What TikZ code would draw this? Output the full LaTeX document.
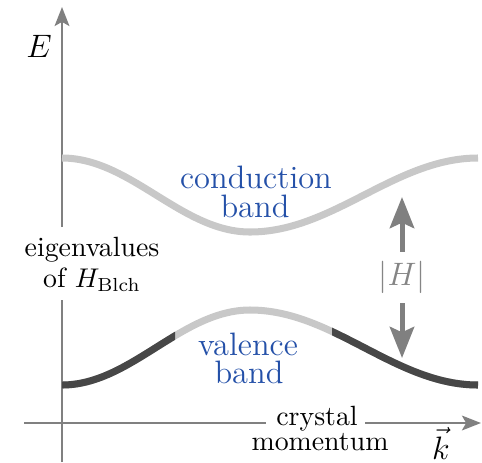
\documentclass[tikz,border=0pt]{standalone}
\usetikzlibrary{arrows.meta}
\definecolor{axisgray}{HTML}{808080}
\definecolor{lightband}{HTML}{C8C8C8}
\definecolor{darkband}{HTML}{474747}
\definecolor{bandblue}{HTML}{2450A8}
\definecolor{hgray}{HTML}{858585}
\newcommand{\myvalpath}{(62,385) .. controls (130.5,385) and (181.5,310) .. (250,310) .. controls (333,310) and (395,385) .. (478,385)}
\begin{document}
\begin{tikzpicture}[x=0.37pt,y=-0.37pt,
  axis/.style={draw=axisgray,line width=1.1pt},
  axisarrow/.style={-{Stealth[length=7pt,width=5.4pt,inset=1.5pt]}},
  band/.style={line width=2.6pt},
  harrow/.style={draw=axisgray,line width=1.85pt,-{Stealth[length=11.5pt,width=9pt,inset=2pt]}},
  bigtxt/.style={font=\fontsize{12}{14}\selectfont,anchor=base,inner sep=0pt},
  smalltxt/.style={font=\fontsize{10.3}{12}\selectfont,anchor=base,inner sep=0pt},
  bluetxt/.style={bigtxt,text=bandblue}]
\useasboundingbox (0,0) rectangle (482,462);

% vertical axis
\coordinate (vbot) at (62,462);
\coordinate (vgapb) at (62,300);
\coordinate (vgapt) at (62,227);
\coordinate (vtop) at (62,7);
\draw[axis] (vbot) -- (vgapb);
\draw[axis,axisarrow] (vgapt) -- (vtop);

% horizontal axis
\node[smalltxt] (crys) at (317,425) {crystal};
\node[smalltxt] (mom) at (320,450) {momentum};
\coordinate (hleft) at (24,423);
\coordinate (hright) at (481,423);
\coordinate (cl) at ([xshift=-3.7pt]crys.west);
\coordinate (cr) at ([xshift=2.6pt]crys.east);
\draw[axis] (hleft) -- (cl |- hleft);
\draw[axis,axisarrow] (cr |- hright) -- (hright);

% bands
\draw[band,lightband] (62,158) .. controls (130.5,158) and (181.5,232) .. (250,232) .. controls (333,232) and (395,158) .. (478,158);
\draw[band,lightband] \myvalpath;
\begin{scope}
  \clip (0,0) rectangle (175,462);
  \draw[band,darkband] \myvalpath;
\end{scope}
\begin{scope}
  \clip (332,0) rectangle (482,462);
  \draw[band,darkband] \myvalpath;
\end{scope}

% labels
\node[bigtxt] (E) at (39,57) {$E$};
\node[bigtxt] (k) at (441,459.5) {$\vec{k}$};
\node[smalltxt] (eig1) at (92,256) {eigenvalues};
\node[smalltxt] (eig2) at (92,287) {of $H_{\mathrm{Blch}}$};
\node[bluetxt] (cb1) at (256,188) {conduction};
\node[bluetxt] (cb2) at (255,217) {band};
\node[bluetxt] (vb1) at (248,355) {valence};
\node[bluetxt] (vb2) at (249,383) {band};

% gap arrows
\node[font=\fontsize{12}{14}\selectfont,text=hgray,inner sep=3.3pt] (H) at (402,277.5) {$|H|$};
\coordinate (htop) at (402,197);
\coordinate (hbot) at (402,358);
\draw[harrow] (H.north) -- (htop);
\draw[harrow] (H.south) -- (hbot);
\end{tikzpicture}
\end{document}
